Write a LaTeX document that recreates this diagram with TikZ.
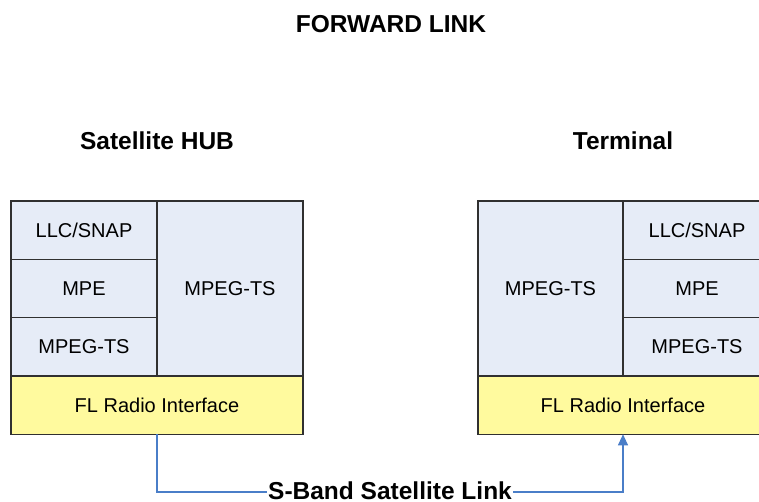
\documentclass[tikz,border=0pt]{standalone}
\usepackage{xcolor}
\usepackage{fontspec}
\setmainfont{Liberation Sans}
\usepackage{tikz}
\usetikzlibrary{arrows.meta,positioning}
\definecolor{LayerBlue}{HTML}{E6ECF7}
\definecolor{RadioYellow}{HTML}{FFFA9E}
\definecolor{LinkBlue}{HTML}{4A7EC8}
\definecolor{EdgeGrey}{HTML}{303030}

\begin{document}
\begin{tikzpicture}[x=1pt, y=1pt, node distance=0pt, every node/.style={font=\fontsize{20}{24}\selectfont}, layer/.style={draw=EdgeGrey, line width=1.1pt, fill=LayerBlue, inner sep=0pt, outer sep=0pt, minimum width=146pt, minimum height=58.33pt, align=center}, radio/.style={layer, fill=RadioYellow, minimum width=292pt}, heading/.style={font=\fontsize{24.5}{29}\selectfont\bfseries}, link/.style={-{Triangle[length=11pt,width=10pt]}, line width=1.1pt, color=LinkBlue}]
\path[use as bounding box, clip] (0,0) rectangle (759,502);
\node[heading] (title) at (391,478) {FORWARD LINK};
\node[heading] (hubTitle) at (157,361) {Satellite HUB};
\node[heading] (termTitle) at (623,361) {Terminal};
% hub stack
\node[layer] (hubLLC) at (84,271.85) {LLC/SNAP};
\node[layer] (hubMPE) [below=of hubLLC] {MPE};
\node[layer] (hubTS) [below=of hubMPE] {MPEG-TS};
\node[layer, minimum height=175pt] (hubMux) [right=of hubMPE] {MPEG-TS};
\node[radio] (hubRadio) [below=of hubTS.south east] {FL Radio Interface};
% terminal stack
\node[layer, minimum width=145pt, minimum height=175pt] (termMux) at (550.5,213.5) {MPEG-TS};
\node[layer, minimum width=148pt] (termMPE) [right=of termMux] {MPE};
\node[layer, minimum width=148pt] (termLLC) [above=of termMPE] {LLC/SNAP};
\node[layer, minimum width=148pt] (termTS) [below=of termMPE] {MPEG-TS};
\node[radio, minimum width=290pt] (termRadio) [below=of termTS.south west] {FL Radio Interface};
\draw[link] (hubRadio.south) -- ++(0,-57.7) -| node[pos=0.25, heading, text=black, fill=white, inner sep=1pt, yshift=1.5pt] (linkLabel) {S-Band Satellite Link} (termRadio.south);
\end{tikzpicture}
\end{document}
